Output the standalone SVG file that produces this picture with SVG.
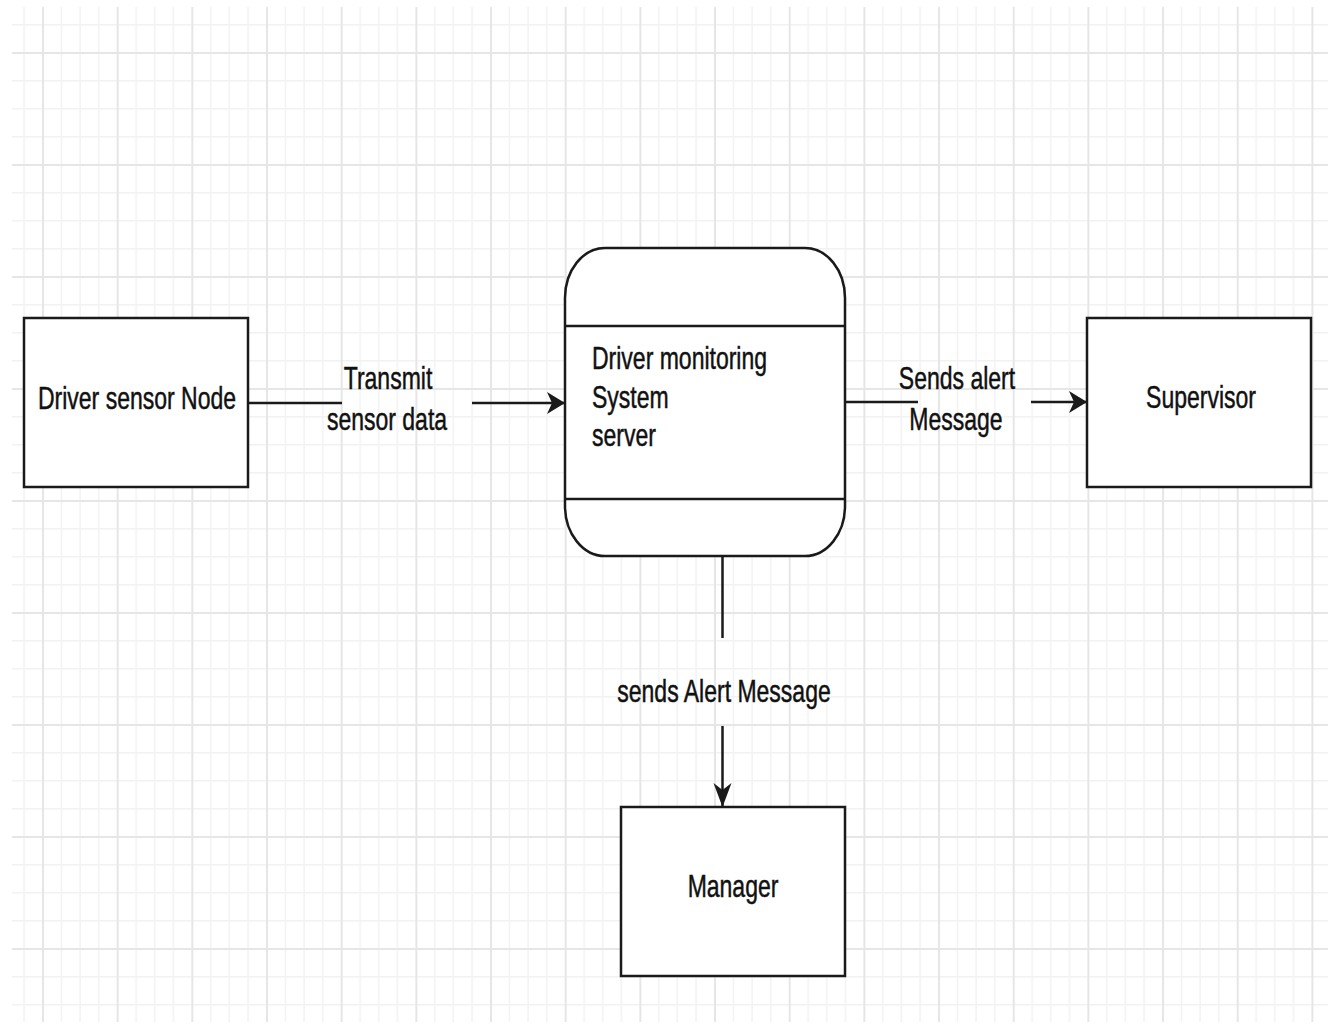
<svg xmlns="http://www.w3.org/2000/svg" width="1336" height="1024" viewBox="0 0 1336 1024">
<style>
.box{fill:#fff;stroke:#1a1a1a;stroke-width:2.5}
.edge{fill:none;stroke:#1a1a1a;stroke-width:2.5}
.lbl{font-family:"Liberation Sans",Arial,sans-serif;font-size:23px;fill:#111;stroke:#111;stroke-width:0.35}
.mid{text-anchor:middle}
</style>
<defs>
<pattern id="grid" patternUnits="userSpaceOnUse" x="42" y="52" width="74.67" height="112">
<rect x="18.67" y="0" width="1.5" height="112" fill="#f2f2f2"/>
<rect x="37.33" y="0" width="1.5" height="112" fill="#f2f2f2"/>
<rect x="56" y="0" width="1.5" height="112" fill="#f2f2f2"/>
<rect x="0" y="28" width="74.67" height="1.5" fill="#f2f2f2"/>
<rect x="0" y="56" width="74.67" height="1.5" fill="#f2f2f2"/>
<rect x="0" y="84" width="74.67" height="1.5" fill="#f2f2f2"/>
<rect x="0" y="0" width="2" height="112" fill="#e6e6e6"/>
<rect x="0" y="0" width="74.67" height="2" fill="#e6e6e6"/>
</pattern>
<marker id="arrH" markerUnits="userSpaceOnUse" markerWidth="20" markerHeight="24" refX="18" refY="11" orient="auto" viewBox="0 0 20 24">
<path d="M18,11 L0,0 L5,11 L0,22 Z" fill="#1a1a1a"/>
</marker>
<marker id="arrV" markerUnits="userSpaceOnUse" markerWidth="26" markerHeight="20" refX="24" refY="9" orient="auto" viewBox="0 0 26 20">
<path d="M24,9 L0,0 L7,9 L0,18 Z" fill="#1a1a1a"/>
</marker>
</defs>
<rect width="1336" height="1024" fill="#fff"/>
<rect x="12" y="7" width="1316" height="1015" fill="url(#grid)"/>

<g id="connectors">
<line class="edge" x1="248" y1="403" x2="342" y2="403"/>
<line class="edge" x1="472" y1="403" x2="565" y2="403" marker-end="url(#arrH)"/>
<line class="edge" x1="845" y1="402" x2="918" y2="402"/>
<line class="edge" x1="1031" y1="402" x2="1087" y2="402" marker-end="url(#arrH)"/>
<line class="edge" x1="722.5" y1="556" x2="722.5" y2="638"/>
<line class="edge" x1="722.5" y1="726" x2="722.5" y2="807" marker-end="url(#arrV)"/>
<text class="lbl mid" transform="translate(388,388.5) scale(1,1.4)">Transmit</text>
<text class="lbl mid" transform="translate(387,429.5) scale(1,1.4)">sensor data</text>
<text class="lbl mid" transform="translate(957,388.5) scale(1,1.4)">Sends alert</text>
<text class="lbl mid" transform="translate(956,429.5) scale(1,1.4)">Message</text>
<text class="lbl mid" transform="translate(724,702) scale(1,1.4)">sends Alert Message</text>
</g>

<g id="driver-sensor-node">
<rect class="box" x="24" y="318" width="224" height="169"/>
<text class="lbl mid" transform="translate(137,409) scale(1,1.4)">Driver sensor Node</text>
</g>

<g id="server">
<path class="box" d="M605,248 H805 A40,50 0 0 1 845,298 V506 A40,50 0 0 1 805,556 H605 A40,50 0 0 1 565,506 V298 A40,50 0 0 1 605,248 Z"/>
<line class="edge" x1="565" y1="326" x2="845" y2="326"/>
<line class="edge" x1="565" y1="499" x2="845" y2="499"/>
<text class="lbl" transform="translate(592,369) scale(1,1.4)">Driver monitoring</text>
<text class="lbl" transform="translate(592,408) scale(1,1.4)">System</text>
<text class="lbl" transform="translate(592,446) scale(1,1.4)">server</text>
</g>

<g id="supervisor">
<rect class="box" x="1087" y="318" width="224" height="169"/>
<text class="lbl mid" transform="translate(1201,408) scale(1,1.4)">Supervisor</text>
</g>

<g id="manager">
<rect class="box" x="621" y="807" width="224" height="169"/>
<text class="lbl mid" transform="translate(733,897) scale(1,1.4)">Manager</text>
</g>
</svg>
